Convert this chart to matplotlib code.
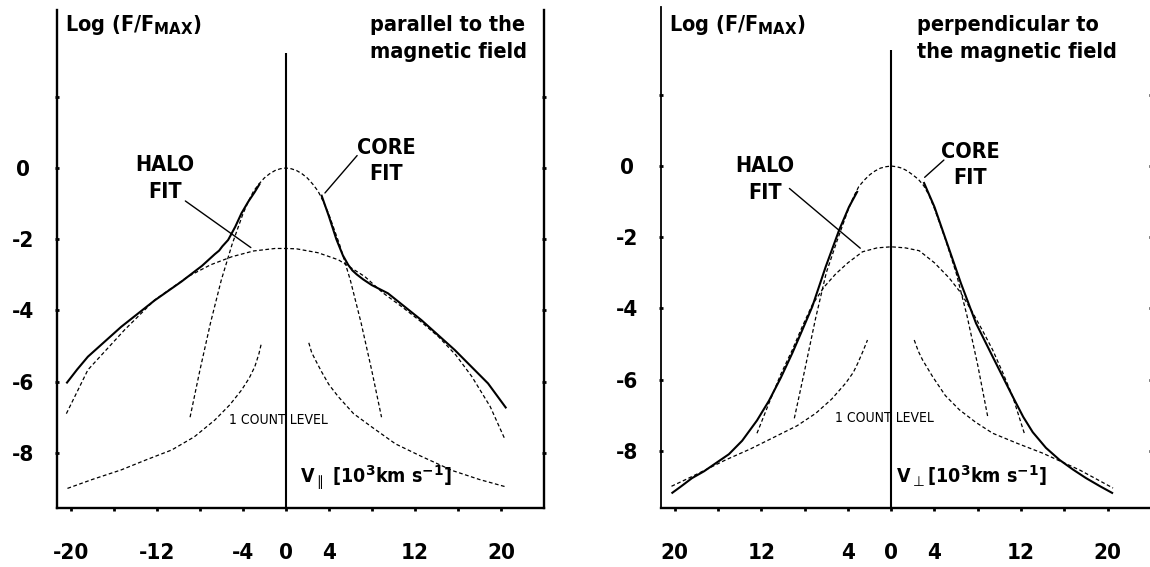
import matplotlib
matplotlib.use('Agg')
import matplotlib.pyplot as plt

plt.rcParams['font.family'] = ['DejaVu Sans']
plt.rcParams['font.weight'] = 'bold'
plt.rcParams['mathtext.fontset'] = 'custom'
plt.rcParams['mathtext.rm'] = 'DejaVu Sans:weight=normal'
plt.rcParams['mathtext.it'] = 'DejaVu Sans:weight=normal'
plt.rcParams['mathtext.bf'] = 'DejaVu Sans:weight=bold'

# ---- data: velocity [10^3 km/s], log(F/Fmax) ----
# parallel to the magnetic field
par_core_v = [-8.9, -8, -7, -6, -5, -4, -3.5, -3, -2.5, -2, -1.5, -1, -0.5, 0,
              0.5, 1, 1.5, 2, 2.5, 3, 3.5, 4, 5, 6, 7, 8, 8.9]
par_core_f = [-7.0, -5.7, -4.35, -3.15, -2.15, -1.3, -0.95, -0.65, -0.45, -0.28,
              -0.16, -0.07, -0.02, 0, -0.02, -0.07, -0.16, -0.28, -0.45, -0.65,
              -0.95, -1.3, -2.15, -3.15, -4.35, -5.7, -7.0]
par_halo_v = [-20.4, -18.4, -15, -12.2, -9.1, -7, -5, -3, -1, 0, 1, 3, 4.9,
              7.35, 9, 10.8, 12.5, 14.2, 15.8, 17.3, 19, 20.4]
par_halo_f = [-6.9, -5.67, -4.55, -3.71, -3.05, -2.72, -2.49, -2.33, -2.26, -2.26,
              -2.27, -2.38, -2.58, -3.05, -3.5, -3.9, -4.3, -4.74, -5.25, -5.86,
              -6.7, -7.64]
par_meas_lv = [-20.4, -19.4, -18.4, -15.3, -12.2, -9.7, -7.8, -6.6, -6.2, -5.9,
               -5.36, -4.7, -4.12, -3.5, -2.88, -2.4]
par_meas_lf = [-6.05, -5.66, -5.3, -4.46, -3.72, -3.19, -2.75, -2.42, -2.32, -2.2,
               -2.02, -1.65, -1.27, -0.95, -0.67, -0.43]
par_meas_rv = [3.3, 4.0, 4.7, 5.3, 5.8, 6.2, 6.6, 7.2, 8.0, 9.5, 12.6, 15.7,
               18.8, 20.5]
par_meas_rf = [-0.75, -1.35, -2.0, -2.45, -2.72, -2.88, -2.99, -3.13, -3.29,
               -3.52, -4.27, -5.11, -6.05, -6.75]
par_count_lv = [-20.3, -18, -15.3, -13, -10.6, -8.5, -6.6, -5.2, -4.12, -3.4,
                -2.88, -2.5, -2.26]
par_count_lf = [-9.0, -8.75, -8.48, -8.2, -7.92, -7.55, -7.08, -6.65, -6.24,
                -5.9, -5.58, -5.22, -4.91]
par_count_rv = [2.14, 2.4, 2.8, 3.32, 4.0, 4.87, 6.3, 7.97, 10.2, 12.6, 15.5,
                18, 20.5]
par_count_rf = [-4.91, -5.18, -5.42, -5.72, -6.08, -6.42, -6.9, -7.27, -7.75,
                -8.1, -8.5, -8.75, -8.96]

# perpendicular to the magnetic field
per_core_v = [-8.95, -8, -7, -6, -5, -4, -3.5, -3, -2.5, -2, -1.5, -1, -0.5, 0,
              0.5, 1, 1.5, 2, 2.5, 3, 3.5, 4, 5, 6, 7, 8, 8.95]
per_core_f = [-7.09, -5.75, -4.3, -3.0, -2.1, -1.25, -0.88, -0.58, -0.4, -0.25,
              -0.14, -0.06, -0.02, 0, -0.02, -0.06, -0.14, -0.25, -0.37, -0.55,
              -0.82, -1.2, -2.05, -3.0, -4.2, -5.6, -7.09]
per_halo_v = [-12.4, -11.3, -10.2, -9.14, -8.2, -7.29, -6.2, -5.12, -4, -2.65,
              -1.3, 0, 1.3, 2.59, 4, 5.37, 6.4, 7.38, 8.4, 9.38, 10.3, 11.23, 12.3]
per_halo_f = [-7.51, -6.67, -5.85, -5.17, -4.5, -3.9, -3.4, -3.03, -2.72, -2.41,
              -2.3, -2.27, -2.3, -2.38, -2.72, -3.15, -3.55, -4.04, -4.6, -5.17,
              -5.8, -6.48, -7.51]
per_meas_lv = [-20.3, -19.4, -18.4, -17.3, -16.2, -15.0, -13.77, -12.4, -11.3,
               -10.2, -9.14, -8.2, -7.29, -6.05, -4.81, -3.9, -3.1]
per_meas_lf = [-9.2, -9.0, -8.77, -8.58, -8.35, -8.1, -7.72, -7.15, -6.6,
               -5.95, -5.26, -4.6, -3.95, -2.83, -1.8, -1.15, -0.7]
per_meas_rv = [3.0, 4.0, 5.06, 6.45, 7.84, 9.38, 11.23, 12.2, 13.08, 14.3,
               15.56, 16.8, 18.0, 19.3, 20.5]
per_meas_rf = [-0.45, -1.15, -2.08, -3.3, -4.42, -5.36, -6.48, -7.05, -7.48,
               -7.92, -8.26, -8.53, -8.77, -9.0, -9.2]
per_count_lv = [-20.3, -18.7, -15.3, -13, -10.68, -8.7, -6.97, -5.5, -4.2, -3.5,
                -3.1, -2.6, -2.19]
per_count_lf = [-9.0, -8.77, -8.26, -7.95, -7.6, -7.3, -6.95, -6.55, -6.1, -5.8,
                -5.55, -5.2, -4.89]
per_count_rv = [2.13, 2.5, 2.9, 3.83, 5, 6.3, 7.8, 9.38, 11.7, 14.0, 17.4, 20.5]
per_count_rf = [-4.89, -5.2, -5.45, -5.92, -6.45, -6.85, -7.2, -7.51, -7.8,
                -8.07, -8.54, -9.05]

x_ticks = [-20, -16, -12, -8, -4, 0, 4, 8, 12, 16, 20]
par_xlabels = ['-20', '', '-12', '', '-4', '0', '4', '', '12', '', '20']
per_xlabels = ['20', '', '12', '', '4', '0', '4', '', '12', '', '20']
y_ticks = [2, 0, -2, -4, -6, -8]
y_labels = ['', '0', '-2', '-4', '-6', '-8']

DASH = (0, (3, 2))
NARROW = 'condensed'


def draw_panel(ax, core, halo, meas_l, meas_r, count_l, count_r, ylim,
               xlabels, top_line):
    ax.set_xlim(-21.3, 24.0)
    ax.set_ylim(*ylim)
    for side in ('left', 'right', 'bottom'):
        ax.spines[side].set_linewidth(1.7)
    ax.spines['top'].set_visible(False)

    ax.set_xticks(x_ticks)
    ax.set_xticklabels(xlabels, fontstretch=NARROW)
    ax.set_yticks(y_ticks)
    ax.set_yticklabels(y_labels, fontstretch=NARROW)
    ax.tick_params(axis='x', direction='out', length=2, width=2, pad=23,
                   labelsize=16)
    ax.tick_params(axis='y', direction='inout', length=3, width=2, pad=23,
                   labelsize=16, right=True)
    for lbl in ax.get_yticklabels():
        lbl.set_horizontalalignment('center')

    # zero-velocity line
    ax.vlines(0, ylim[0], top_line, color='black', lw=1.5, zorder=3)

    # fits and 1 count level (dashed)
    for v, f in (core, halo, count_l, count_r):
        ax.plot(v, f, color='black', lw=0.9, ls=DASH)
    # measured distribution (solid)
    for v, f in (meas_l, meas_r):
        ax.plot(v, f, color='black', lw=1.5, solid_capstyle='butt')


fig = plt.figure(figsize=(11.5, 5.67), dpi=100)
ax1 = fig.add_axes([0.0493, 0.1041, 0.4237, 0.8783])
ax2 = fig.add_axes([0.5745, 0.1041, 0.4263, 0.8836])

draw_panel(ax1, (par_core_v, par_core_f), (par_halo_v, par_halo_f),
           (par_meas_lv, par_meas_lf), (par_meas_rv, par_meas_rf),
           (par_count_lv, par_count_lf), (par_count_rv, par_count_rf),
           (-9.55, 4.44), par_xlabels, 3.23)
draw_panel(ax2, (per_core_v, per_core_f), (per_halo_v, per_halo_f),
           (per_meas_lv, per_meas_lf), (per_meas_rv, per_meas_rf),
           (per_count_lv, per_count_lf), (per_count_rv, per_count_rf),
           (-9.61, 4.47), per_xlabels, 3.26)
ax2.spines['left'].set_linewidth(1.3)
ax2.spines['right'].set_visible(False)

big = dict(fontsize=15.5, va='center', fontstretch=NARROW)
vlab = dict(fontsize=14, va='center', ha='left', fontstretch=NARROW)
small = dict(fontsize=10, weight='normal', va='center', ha='center',
             fontstretch=NARROW)
lead = dict(arrowstyle='-', lw=1.0, color='black')

# left panel texts
ax1.text(-20.56, 4.02, r'Log (F/F$_{\mathbf{MAX}}$)', ha='left', **big)
ax1.text(7.8, 4.02, 'parallel to the', ha='left', **big)
ax1.text(7.8, 3.26, 'magnetic field', ha='left', **big)
ax1.text(-11.26, 0.08, 'HALO', ha='center', **big)
ax1.text(-11.26, -0.67, 'FIT', ha='center', **big)
ax1.text(9.35, 0.56, 'CORE', ha='center', **big)
ax1.text(9.35, -0.17, 'FIT', ha='center', **big)
ax1.annotate('', xy=(-3.04, -2.28), xytext=(-9.55, -0.88), arrowprops=lead)
ax1.annotate('', xy=(3.47, -0.76), xytext=(6.8, 0.41), arrowprops=lead)
ax1.text(-0.65, -7.08, '1 COUNT LEVEL', **small)
ax1.text(1.3, -8.71, r'V$_{\parallel}$ [10$^{\mathbf{3}}$km s$^{\mathbf{-1}}$]',
         **vlab)

# right panel texts
ax2.text(-20.5, 3.96, r'Log (F/F$_{\mathbf{MAX}}$)', ha='left', **big)
ax2.text(2.4, 3.96, 'perpendicular to', ha='left', **big)
ax2.text(2.4, 3.2, 'the magnetic field', ha='left', **big)
ax2.text(-11.67, 0.01, 'HALO', ha='center', **big)
ax2.text(-11.67, -0.76, 'FIT', ha='center', **big)
ax2.text(7.3, 0.40, 'CORE', ha='center', **big)
ax2.text(7.3, -0.34, 'FIT', ha='center', **big)
ax2.annotate('', xy=(-2.66, -2.36), xytext=(-9.6, -0.58), arrowprops=lead)
ax2.annotate('', xy=(2.9, -0.37), xytext=(5.06, 0.22), arrowprops=lead)
ax2.text(-0.65, -7.08, '1 COUNT LEVEL', **small)
ax2.text(0.46, -8.71, r'V$_{\bot}$[10$^{\mathbf{3}}$km s$^{\mathbf{-1}}$]',
         **vlab)

fig.savefig('out.png', dpi=100)
